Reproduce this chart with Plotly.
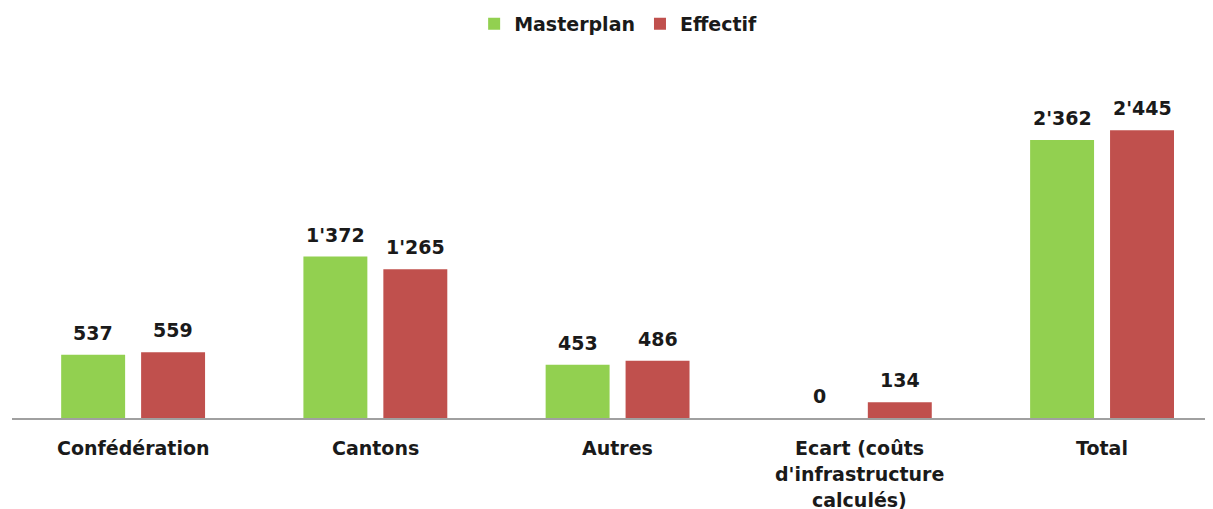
import plotly.graph_objects as go

categories = ["Confédération", "Cantons", "Autres", "Ecart (coûts\nd'infrastructure\ncalculés)", "Total"]
masterplan = [537, 1372, 453, 0, 2362]
effectif = [559, 1265, 486, 134, 2445]

GREEN = "#92d050"
RED = "#c0504d"
FONT = "DejaVu Sans"
TXT = "#1a1a1a"
FS = 19

def fmt(v):
    return f"{v:,}".replace(",", "'")

BAR_W = 0.264
xs = list(range(len(categories)))
fig = go.Figure()
fig.add_trace(go.Bar(name="Masterplan", x=xs, y=masterplan,
                     marker=dict(color=GREEN, line=dict(width=0)), width=BAR_W, offset=-0.297))
fig.add_trace(go.Bar(name="Effectif", x=xs, y=effectif,
                     marker=dict(color=RED, line=dict(width=0)), width=BAR_W, offset=0.033))

annotations = []
for i, (m, e) in enumerate(zip(masterplan, effectif)):
    for v, off in ((m, -0.165), (e, 0.165)):
        annotations.append(dict(x=i + off, y=v, xref="x", yref="y", text=f"<b>{fmt(v)}</b>",
                                showarrow=False, yanchor="bottom", yshift=9,
                                font=dict(family=FONT, size=FS, color=TXT)))
for i, c in enumerate(categories):
    for k, line in enumerate(c.split("\n")):
        annotations.append(dict(x=i, y=0, xref="x", yref="y", text=f"<b>{line}</b>",
                                showarrow=False, yanchor="top", yshift=-17 - 26 * k,
                                font=dict(family=FONT, size=FS, color=TXT)))

fig.update_layout(
    width=1213, height=509,
    margin=dict(l=4, r=8, t=57, b=99),
    paper_bgcolor="white", plot_bgcolor="white",
    barmode="overlay",
    showlegend=True,
    legend=dict(orientation="h", x=0.503, xref="container", xanchor="center",
                y=1 - 16 / 509, yref="container", yanchor="middle",
                font=dict(family=FONT, size=FS, color=TXT, weight="bold"),
                traceorder="normal"),
    annotations=annotations,
    xaxis=dict(range=[-0.5, 4.458], showticklabels=False, showgrid=False, zeroline=False,
               showline=True, linecolor="#a0a0a0", linewidth=2, ticks="", fixedrange=True),
    yaxis=dict(range=[0, 3000], visible=False, showgrid=False, zeroline=False),
)

fig.write_html("out.html")
